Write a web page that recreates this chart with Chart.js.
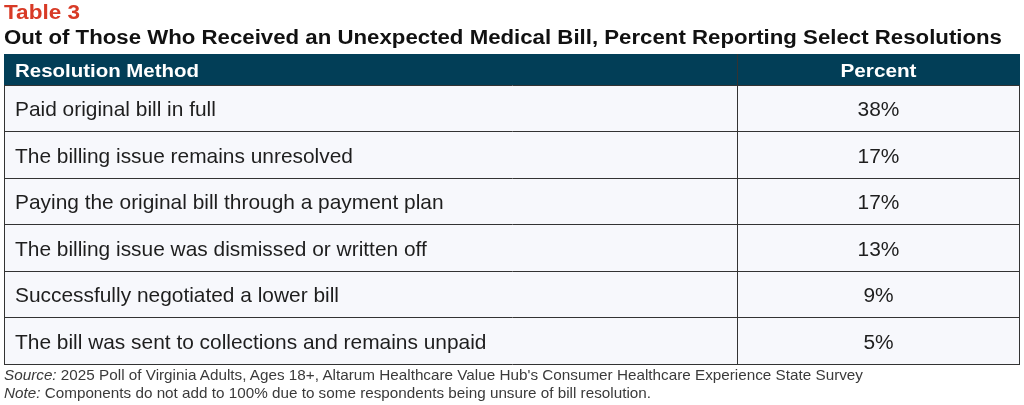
<!DOCTYPE html>
<html>
<head>
<meta charset="utf-8">
<script src="https://cdn.jsdelivr.net/npm/chart.js@4"></script>
<style>
  html,body{margin:0;padding:0;background:#fff;overflow:hidden;}
  #wrap{position:absolute;left:0;top:0;width:1024px;height:405px;}
  .t{position:absolute;left:4px;white-space:nowrap;transform-origin:0 0;}
  #title{top:1px;font:bold 20px "Liberation Sans",Arial,sans-serif;color:#d83a26;}
  #sub{top:26px;font:bold 19.5px "Liberation Sans",Arial,sans-serif;color:#111;}
  .note{font:15px "Liberation Sans",Arial,sans-serif;color:#3a3a3a;}
  #n1{top:366px;}
  #n2{top:384px;}
</style>
</head>
<body>
<div id="wrap"><canvas id="c"></canvas></div>
<div class="t" id="title">Table 3</div>
<div class="t" id="sub">Out of Those Who Received an Unexpected Medical Bill, Percent Reporting Select Resolutions</div>
<div class="t note" id="n1"><i>Source:</i> 2025 Poll of Virginia Adults, Ages 18+, Altarum Healthcare Value Hub's Consumer Healthcare Experience State Survey</div>
<div class="t note" id="n2"><i>Note:</i> Components do not add to 100% due to some respondents being unsure of bill resolution.</div>
<script>
const headers = ["Resolution Method", "Percent"];
const methods = [
  "Paid original bill in full",
  "The billing issue remains unresolved",
  "Paying the original bill through a payment plan",
  "The billing issue was dismissed or written off",
  "Successfully negotiated a lower bill",
  "The bill was sent to collections and remains unpaid"
];
const percents = [38, 17, 17, 13, 9, 5];

function fitW(id, target) {
  const s = document.getElementById(id);
  const w = s.getBoundingClientRect().width;
  s.style.transform = 'scaleX(' + (target / w) + ')';
}
fitW('sub', 998);
fitW('title', 76);
fitW('n1', 859);
fitW('n2', 647);

const FONT = '"Liberation Sans", Arial, sans-serif';
const HEADER_TOP = 54;
const DIVIDER_X = 737;

function fitText(ctx, text, x, y, targetW, align) {
  const w = ctx.measureText(text).width;
  const sx = targetW / w;
  ctx.save();
  ctx.translate(x, y);
  ctx.scale(sx, 1);
  ctx.textAlign = align;
  ctx.fillText(text, 0, 0);
  ctx.restore();
}

const tablePlugin = {
  id: 'tablePlugin',
  beforeDraw(chart) {
    const {ctx, chartArea: a} = chart;
    ctx.save();
    ctx.fillStyle = '#f7f8fc';
    ctx.fillRect(a.left, a.top, a.right - a.left, a.bottom - a.top);
    ctx.fillStyle = '#023e57';
    ctx.fillRect(a.left, HEADER_TOP, a.right - a.left, a.top - HEADER_TOP);
    ctx.restore();
  },
  afterDraw(chart) {
    const {ctx, chartArea: a, scales} = chart;
    const y = scales.y;
    ctx.save();
    ctx.fillStyle = '#ffffff';
    ctx.font = 'bold 18.5px ' + FONT;
    ctx.textBaseline = 'middle';
    const hy = (HEADER_TOP + a.top) / 2 + 2;
    const colC = (DIVIDER_X + a.right) / 2;
    fitText(ctx, headers[0], a.left + 11, hy, 184, 'left');
    fitText(ctx, headers[1], colC, hy, 76, 'center');
    ctx.fillStyle = '#1e1e1e';
    ctx.font = '20.9px ' + FONT;
    ctx.textAlign = 'center';
    percents.forEach((v, i) => {
      ctx.fillText(v + '%', colC, y.getPixelForValue(i) + 2);
    });
    ctx.strokeStyle = '#333';
    ctx.lineWidth = 1;
    ctx.beginPath();
    ctx.moveTo(DIVIDER_X + 0.5, HEADER_TOP);
    ctx.lineTo(DIVIDER_X + 0.5, a.bottom);
    ctx.moveTo(Math.round(a.right) - 0.5, a.top);
    ctx.lineTo(Math.round(a.right) - 0.5, a.bottom);
    ctx.stroke();
    ctx.restore();
  }
};

new Chart(document.getElementById('c'), {
  type: 'bar',
  data: {
    labels: methods,
    datasets: [{ data: percents, backgroundColor: 'rgba(0,0,0,0)', borderWidth: 0 }]
  },
  options: {
    indexAxis: 'y',
    responsive: true,
    maintainAspectRatio: false,
    animation: false,
    events: [],
    layout: { padding: { top: 85, left: 4, right: 4, bottom: 41 } },
    plugins: { legend: { display: false }, tooltip: { enabled: false }, title: { display: false } },
    scales: {
      x: { display: false, min: 0, max: 100 },
      y: {
        type: 'category',
        offset: true,
        afterFit(scale) { scale.width = 0; },
        grid: { display: true, offset: true, drawTicks: false, color: '#333', lineWidth: 1 },
        border: { display: true, color: '#333', width: 1 },
        ticks: {
          mirror: true,
          padding: 11,
          labelOffset: 2,
          color: '#1e1e1e',
          font: { family: FONT, size: 20.9 }
        }
      }
    }
  },
  plugins: [tablePlugin]
});
</script>
</body>
</html>
